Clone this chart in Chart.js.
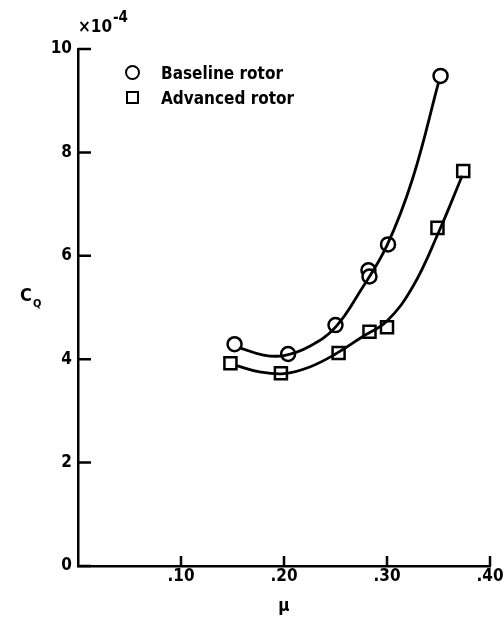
<!DOCTYPE html>
<html>
<head>
<meta charset="utf-8">
<script src="https://cdn.jsdelivr.net/npm/chart.js@4.4.0/dist/chart.umd.min.js"></script>
<style>
    html, body { margin: 0; padding: 0; background: #fff; }
    #wrap { position: relative; width: 504px; height: 619px; }
    #legend-container { position: absolute; left: 124px; top: 60px; }
    #legend-container li { list-style: none; display: flex; align-items: center; height: 25px; }
    .mark { width: 16px; display: flex; justify-content: center; align-items: center; }
    .mark span { display: block; box-sizing: border-box; border: 2.5px solid #000; background: #fff; }
    #legend-container p { font: bold 17px "DejaVu Sans Condensed", "DejaVu Sans", sans-serif; color: #000; }
</style>
</head>
<body>
<div id="wrap">
    <canvas id="char_cq" width="504" height="619"></canvas>
    <div id="legend-container"></div>
</div>
<script>
// measured points (C_Q in units of 1e-4)
const baselineMu = [0.152, 0.204, 0.250, 0.282, 0.283, 0.301, 0.352];
const baselineCq = [4.29, 4.10, 4.66, 5.72, 5.60, 6.22, 9.48];
const advancedMu = [0.148, 0.197, 0.253, 0.283, 0.300, 0.349, 0.374];
const advancedCq = [3.92, 3.73, 4.12, 4.53, 4.62, 6.54, 7.64];

// faired curves
const baselineFitMu = [0.157, 0.18, 0.20, 0.225, 0.25, 0.275, 0.30, 0.325, 0.350];
const baselineFitCq = [4.22, 4.08, 4.07, 4.25, 4.62, 5.35, 6.2, 7.5, 9.35];
const advancedFitMu = [0.153, 0.175, 0.20, 0.225, 0.25, 0.275, 0.30, 0.325, 0.35, 0.373];
const advancedFitCq = [3.88, 3.76, 3.72, 3.85, 4.1, 4.42, 4.74, 5.4, 6.45, 7.55];

const xTickLabels = ["", ".10", ".20", ".30", ".40"];
const yTickLabels = ["0", "2", "4", "6", "8", "10"];

const FONT = "'DejaVu Sans Condensed', 'DejaVu Sans', sans-serif";

const toXY = (xs, ys) => xs.map((x, i) => ({ x: x, y: ys[i] }));

const htmlLegendPlugin = {
    id: "htmlLegend",
    afterUpdate(chart, args, options) {
        const box = document.getElementById(options.containerID);
        let ul = box.querySelector("ul");
        if (!ul) {
            ul = document.createElement("ul");
            ul.style.margin = 0;
            ul.style.padding = 0;
            box.appendChild(ul);
        }
        while (ul.firstChild) {
            ul.firstChild.remove();
        }
        const items = chart.options.plugins.legend.labels.generateLabels(chart);
        items.filter((item) => item.text).forEach((item) => {
            const li = document.createElement("li");
            const mark = document.createElement("div");
            mark.className = "mark";
            const shape = document.createElement("span");
            if (item.pointStyle === "circle") {
                shape.style.width = "15px";
                shape.style.height = "15px";
                shape.style.borderRadius = "50%";
            } else {
                shape.style.width = "13px";
                shape.style.height = "13px";
            }
            mark.appendChild(shape);

            const p = document.createElement("p");
            p.style.margin = "0 0 0 21px";
            p.appendChild(document.createTextNode(item.text));

            li.appendChild(mark);
            li.appendChild(p);
            ul.appendChild(li);
        });
    },
};

// inward tick marks plus the free text around the axes
const axisDecor = {
    id: "axisDecor",
    afterDraw(chart) {
        const ctx = chart.ctx;
        const xs = chart.scales.x, ys = chart.scales.y;
        const area = chart.chartArea;
        ctx.save();
        ctx.strokeStyle = "#000";
        ctx.lineWidth = 2.5;
        ctx.beginPath();
        ys.ticks.forEach((t) => {
            const y = ys.getPixelForValue(t.value);
            ctx.moveTo(area.left, y);
            ctx.lineTo(area.left + 13, y);
        });
        xs.ticks.forEach((t) => {
            if (t.value === 0) return;
            const x = xs.getPixelForValue(t.value);
            ctx.moveTo(x, area.bottom);
            ctx.lineTo(x, area.bottom - 10);
        });
        ctx.stroke();

        ctx.fillStyle = "#000";
        ctx.textBaseline = "middle";
        ctx.textAlign = "left";
        ctx.font = "bold 17px " + FONT;
        ctx.fillText("\u00d710", 78, 28);
        ctx.font = "bold 15px " + FONT;
        ctx.fillText("-4", 113, 18);

        ctx.font = "bold 18px " + FONT;
        ctx.fillText("C", 20, 296);
        ctx.font = "bold 11px " + FONT;
        ctx.fillText("Q", 33, 304);
        ctx.restore();
    },
};

const lineStyle = {
    type: "line",
    borderColor: "#000",
    borderWidth: 2.8,
    pointRadius: 0,
    tension: 0.4,
    fill: false,
};

const pointStyle = {
    type: "scatter",
    showLine: false,
    borderColor: "#000",
    backgroundColor: "#fff",
    borderWidth: 2.5,
};

const ctx = document.getElementById("char_cq").getContext("2d");
const chart = new Chart(ctx, {
    data: {
        datasets: [
            Object.assign({}, lineStyle, { label: "", data: toXY(baselineFitMu, baselineFitCq) }),
            Object.assign({}, lineStyle, { label: "", data: toXY(advancedFitMu, advancedFitCq) }),
            Object.assign({}, pointStyle, {
                label: "Baseline rotor",
                pointStyle: "circle",
                pointRadius: 7,
                data: toXY(baselineMu, baselineCq),
            }),
            Object.assign({}, pointStyle, {
                label: "Advanced rotor",
                pointStyle: "rect",
                pointRadius: 8.5,
                data: toXY(advancedMu, advancedCq),
            }),
        ],
    },
    options: {
        responsive: false,
        animation: false,
        layout: { padding: { top: 49, right: 14, left: 0, bottom: 0 } },
        plugins: {
            legend: { display: false, labels: { usePointStyle: true } },
            tooltip: { enabled: false },
            htmlLegend: { containerID: "legend-container" },
        },
        scales: {
            x: {
                type: "linear",
                min: 0,
                max: 0.4,
                afterFit: (scale) => { scale.height = 53; },
                ticks: {
                    stepSize: 0.1,
                    padding: 0,
                    color: "#000",
                    font: { family: FONT, size: 17, weight: "bold" },
                    callback: (v, i) => xTickLabels[i],
                },
                grid: { display: false, drawTicks: false },
                border: { display: true, color: "#000", width: 2.5 },
                title: {
                    display: true,
                    text: "\u03bc",
                    color: "#000",
                    font: { family: FONT, size: 17, weight: "bold" },
                    padding: { top: 0, bottom: 2 },
                },
            },
            y: {
                type: "linear",
                min: 0,
                max: 10,
                afterFit: (scale) => { scale.width = 78; },
                ticks: {
                    stepSize: 2,
                    padding: 6,
                    color: "#000",
                    font: { family: FONT, size: 17, weight: "bold" },
                    callback: (v, i) => yTickLabels[i],
                },
                grid: { display: false, drawTicks: false },
                border: { display: true, color: "#000", width: 2.5 },
            },
        },
    },
    plugins: [htmlLegendPlugin, axisDecor],
});
</script>
</body>
</html>
